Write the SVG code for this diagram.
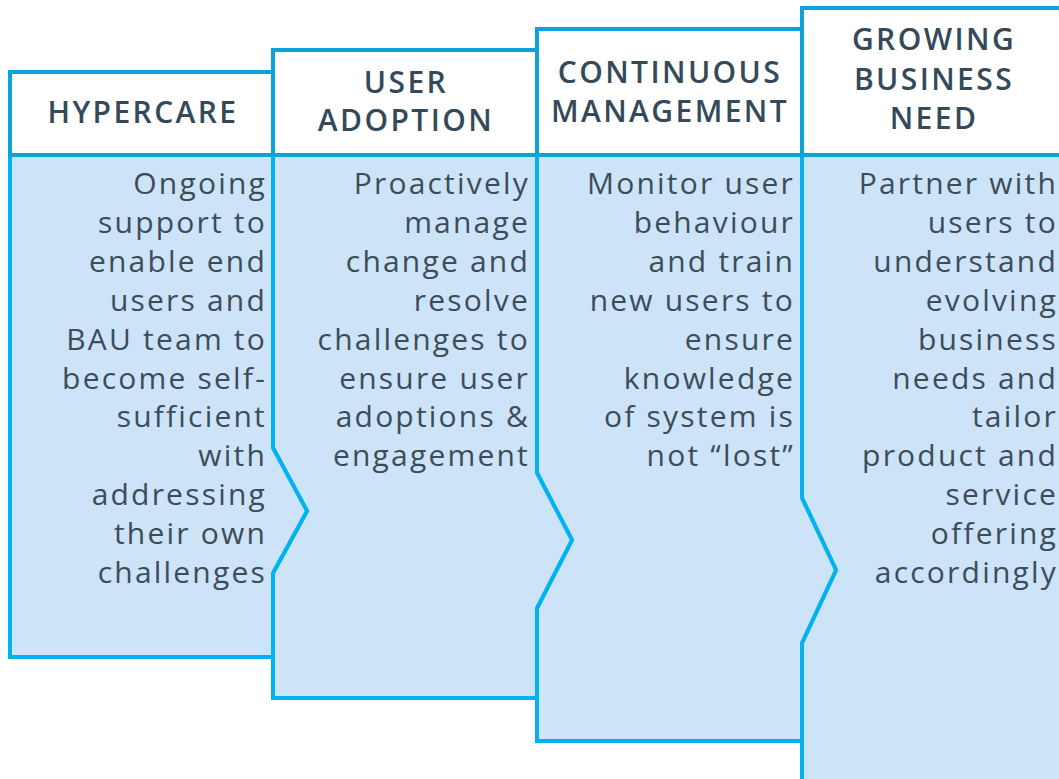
<svg xmlns="http://www.w3.org/2000/svg" width="1059" height="779" viewBox="0 0 1059 779">
<style>
.hdr{fill:#ffffff;stroke:#0aa3dc;stroke-width:4}
.body{fill:#cce3f8;stroke:#00b3f0;stroke-width:4;stroke-linejoin:miter}
.ht{font-family:"Open Sans","Liberation Sans",sans-serif;font-size:30px;font-weight:600;fill:#344a5a;text-anchor:middle;letter-spacing:2.4px}
.bt{font-family:"Open Sans","Liberation Sans",sans-serif;font-size:30px;font-weight:400;fill:#3c4d5a;text-anchor:end;letter-spacing:2.2px}
</style>
<rect width="1059" height="779" fill="#ffffff"/>
<g id="col4">
<polygon class="body" points="802,155 1070,155 1070,790 802,790 802,643 836,570 802,498"/>
<rect class="hdr" x="802" y="8" width="270" height="147"/>
<text class="ht"><tspan x="934" y="50">GROWING</tspan><tspan x="934" y="90">BUSINESS</tspan><tspan x="934" y="129">NEED</tspan></text>
<text class="bt"><tspan x="1058" y="194">Partner with</tspan><tspan x="1058" y="233">users to</tspan><tspan x="1058" y="272">understand</tspan><tspan x="1058" y="311">evolving</tspan><tspan x="1058" y="350">business</tspan><tspan x="1058" y="389">needs and</tspan><tspan x="1058" y="427">tailor</tspan><tspan x="1058" y="466">product and</tspan><tspan x="1058" y="505">service</tspan><tspan x="1058" y="544">offering</tspan><tspan x="1058" y="583">accordingly</tspan></text>
</g>
<g id="col3">
<polygon class="body" points="537,155 802,155 802,498 836,570 802,643 802,741 537,741 537,608 572,540 537,473"/>
<rect class="hdr" x="537" y="29" width="265" height="126"/>
<text class="ht"><tspan x="670" y="83">CONTINUOUS</tspan><tspan x="670" y="122">MANAGEMENT</tspan></text>
<text class="bt"><tspan x="795" y="194">Monitor user</tspan><tspan x="795" y="233">behaviour</tspan><tspan x="795" y="272">and train</tspan><tspan x="795" y="311">new users to</tspan><tspan x="795" y="350">ensure</tspan><tspan x="795" y="389">knowledge</tspan><tspan x="795" y="427">of system is</tspan><tspan x="795" y="466">not “lost”</tspan></text>
</g>
<g id="col2">
<polygon class="body" points="273,155 537,155 537,473 572,540 537,608 537,698 273,698 273,573 307,511 273,448"/>
<rect class="hdr" x="273" y="50" width="264" height="105"/>
<text class="ht"><tspan x="406" y="93">USER</tspan><tspan x="406" y="131">ADOPTION</tspan></text>
<text class="bt"><tspan x="530" y="194">Proactively</tspan><tspan x="530" y="233">manage</tspan><tspan x="530" y="272">change and</tspan><tspan x="530" y="311">resolve</tspan><tspan x="530" y="350">challenges to</tspan><tspan x="530" y="389">ensure user</tspan><tspan x="530" y="427">adoptions &amp;</tspan><tspan x="530" y="466">engagement</tspan></text>
</g>
<g id="col1">
<polygon class="body" points="10,155 273,155 273,448 307,511 273,573 273,657 10,657"/>
<rect class="hdr" x="10" y="72" width="263" height="83"/>
<text class="ht"><tspan x="143" y="123">HYPERCARE</tspan></text>
<text class="bt"><tspan x="267" y="194">Ongoing</tspan><tspan x="267" y="233">support to</tspan><tspan x="267" y="272">enable end</tspan><tspan x="267" y="311">users and</tspan><tspan x="267" y="350">BAU team to</tspan><tspan x="267" y="389">become self-</tspan><tspan x="267" y="427">sufficient</tspan><tspan x="267" y="466">with</tspan><tspan x="267" y="505">addressing</tspan><tspan x="267" y="544">their own</tspan><tspan x="267" y="583">challenges</tspan></text>
</g>
<g id="connectors"></g>
</svg>
